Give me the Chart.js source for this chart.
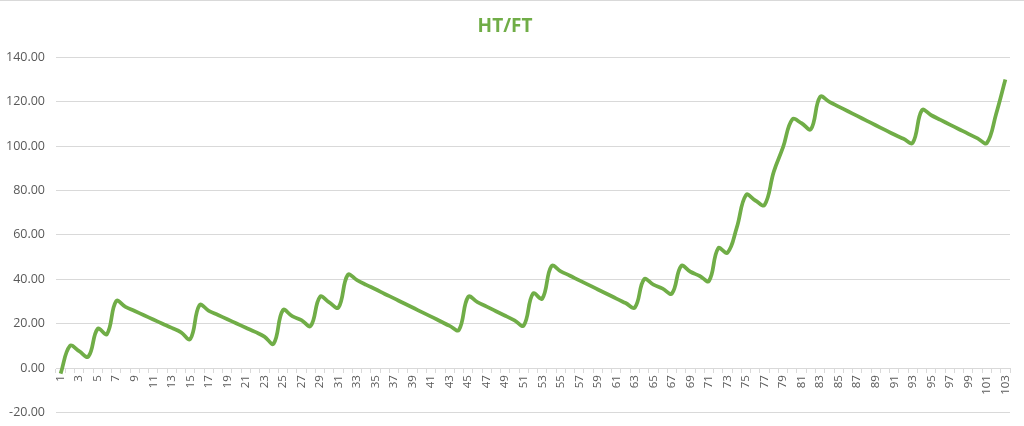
<!DOCTYPE html>
<html>
<head>
<meta charset="utf-8">
<script src="https://cdn.jsdelivr.net/npm/chart.js@4/dist/chart.umd.min.js"></script>
<style>
    html, body { margin: 0; padding: 0; background: #fff; overflow: hidden; }
    #wrap { position: relative; width: 1024px; height: 431px; border-top: 1px solid #d9d9d9; box-sizing: border-box; }
</style>
</head>
<body>
<div id="wrap"><canvas id="htftChart"></canvas></div>
<script>
// categories 1..103
const categories = Array.from({ length: 103 }, (_, i) => String(i + 1));

const htftValues = [
    -2.5, 10, 7.6, 5.2, 17.7, 15.3, 30.2, 27.6, 25.7, 23.8,
    21.9, 20, 18.1, 16.1, 13.1, 28.4, 25.8, 23.9, 22, 20.1,
    18.2, 16.3, 14.2, 11, 26.1, 23.4, 21.6, 19, 32.1, 29.6,
    27.3, 42, 39.6, 37.5, 35.5, 33.4, 31.4, 29.3, 27.3, 25.2,
    23.2, 21.1, 19, 17.2, 32.1, 29.7, 27.7, 25.6, 23.6, 21.5,
    19.2, 33.6, 31.3, 46, 43.6, 41.6, 39.5, 37.5, 35.4, 33.4,
    31.3, 29.3, 27.3, 40, 37.6, 35.8, 33.6, 46, 43.4, 41.5,
    39.3, 54, 52, 63.3, 78, 75.5, 73.5, 88.5, 99.5, 112,
    110.3, 107.6, 122.2, 119.9, 117.8, 115.7, 113.6, 111.5, 109.4, 107.3,
    105.2, 103.3, 101.5, 116.2, 113.9, 111.8, 109.7, 107.6, 105.5, 103.5,
    101.4, 114.5, 130
];

const yTicks = [-20, 0, 20, 40, 60, 80, 100, 120, 140];

document.addEventListener("DOMContentLoaded", () => {
    const ctx = document.getElementById("htftChart");

    new Chart(ctx, {
        type: "line",
        data: {
            labels: categories,
            datasets: [{
                label: "HT/FT",
                data: htftValues,
                borderColor: "#70AD47",
                backgroundColor: "#70AD47",
                borderWidth: 3.75,
                pointRadius: 0,
                tension: 0.4,
                fill: false
            }]
        },
        options: {
            responsive: true,
            maintainAspectRatio: false,
            animation: false,
            layout: {
                padding: { left: 0, right: 14, bottom: 8 }
            },
            plugins: {
                legend: { display: false },
                tooltip: { enabled: false },
                title: {
                    display: true,
                    text: "HT/FT",
                    color: "#70AD47",
                    font: { family: "Open Sans", size: 19, weight: "bold" },
                    padding: { top: 14, bottom: 19.5 }
                }
            },
            scales: {
                x: {
                    type: "category",
                    offset: true,
                    position: { y: 0 },
                    border: { display: true, color: "#d9d9d9", width: 1 },
                    grid: {
                        offset: true,
                        drawOnChartArea: false,
                        drawTicks: true,
                        tickLength: 4,
                        color: "#d9d9d9"
                    },
                    ticks: {
                        autoSkip: false,
                        maxRotation: 90,
                        minRotation: 90,
                        padding: 3,
                        color: "#595959",
                        font: { family: "Open Sans", size: 11.5 },
                        callback: function (value, index) {
                            return index % 2 === 0 ? this.getLabelForValue(value) : "";
                        }
                    }
                },
                y: {
                    min: yTicks[0],
                    max: yTicks[yTicks.length - 1],
                    afterFit: (scale) => { scale.width = 56; },
                    afterBuildTicks: (scale) => {
                        scale.ticks = yTicks.map(v => ({ value: v }));
                    },
                    border: { display: false },
                    grid: {
                        color: "#d9d9d9",
                        drawTicks: false
                    },
                    ticks: {
                        padding: 11,
                        color: "#595959",
                        font: { family: "Open Sans", size: 12.5 },
                        callback: (v) => Number(v).toFixed(2)
                    }
                }
            }
        }
    });
});
</script>
</body>
</html>
